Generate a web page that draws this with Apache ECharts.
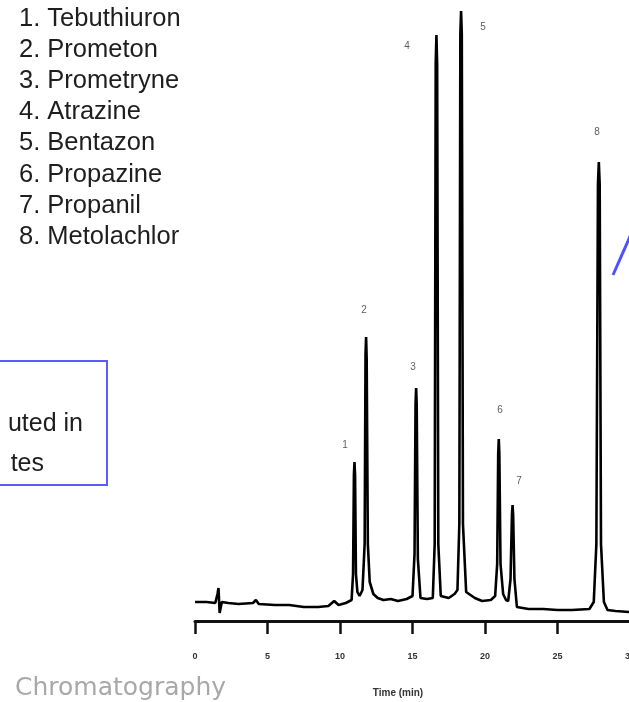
<!DOCTYPE html>
<html>
<head>
<meta charset="utf-8">
<script src="https://cdn.jsdelivr.net/npm/echarts@6/dist/echarts.min.js"></script>
<style>
html,body{margin:0;padding:0;background:#fff;}
#chart{width:629px;height:702px;}
</style>
</head>
<body>
<div id="chart"></div>
<script>
// ---- data ----
var compounds = ["1. Tebuthiuron","2. Prometon","3. Prometryne","4. Atrazine","5. Bentazon","6. Propazine","7. Propanil","8. Metolachlor"];
var xTicks = [0, 5, 10, 15, 20, 25, 30];

var chromTime = [
  0, 0.8, 1.4, 1.55, 1.62, 1.7, 1.85, 2.3, 3.0, 4.0, 4.2, 4.4, 5.5, 6.5, 7.5, 8.5, 9.2, 9.6, 9.9, 10.4, 10.8,
  10.9, 10.96, 11.0, 11.04, 11.1, 11.2, 11.35,
  11.55, 11.7, 11.76, 11.8, 11.84, 11.92, 12.05, 12.3,
  12.6, 13.0, 13.5, 14.0, 14.6, 15.0,
  15.14, 15.21, 15.25, 15.29, 15.37, 15.55,
  16.0, 16.4, 16.53, 16.6, 16.65, 16.7, 16.78, 16.95,
  17.5, 17.9, 18.1, 18.23, 18.3, 18.35, 18.4, 18.48, 18.7,
  19.3, 19.8, 20.4, 20.7, 20.84, 20.91, 20.95, 20.99, 21.07, 21.25,
  21.45, 21.6, 21.76, 21.86, 21.9, 21.94, 22.03, 22.2,
  23.0, 24.0, 25.0, 26.0, 27.2, 27.5, 27.68, 27.79, 27.85, 27.91, 28.0, 28.2, 28.45,
  29.0, 30.0
];
var chromSignal = [
  2, 2, 1, 10, 16, -9, 2, 1, 0, 1, 4, 0, -1, -1, -3, -3, -2, 3, -1, 1, 4,
  30, 130, 142, 128, 30, 12, 8,
  14, 60, 250, 267, 245, 60, 22, 10,
  6, 4, 5, 3, 5, 8,
  50, 200, 216, 200, 45, 6,
  5, 6, 60, 540, 569, 540, 60, 8,
  6, 10, 14, 80, 570, 593, 570, 80, 12,
  6, 3, 4, 8, 40, 150, 165, 150, 40, 10,
  4, 3, 25, 90, 99, 90, 25, -3,
  -5, -5, -6, -6, -5, 2, 60, 420, 442, 420, 60, 2, -6,
  -7, -8
];

var peakNames = ["1","2","3","4","5","6","7","8"];
var peakLabelTime = [10.34, 11.66, 15.03, 14.62, 19.86, 21.03, 22.34, 27.72];
var peakLabelHeight = [159, 294, 237, 558, 577, 194, 123, 472];

// ---- build ----
var chromData = chromTime.map(function(t, i){ return [t, chromSignal[i]]; });
var labelData = peakNames.map(function(n, i){ return {name:n, value:[peakLabelTime[i], peakLabelHeight[i]]}; });

var graphics = [];
compounds.forEach(function(c, i){
  graphics.push({type:'text', x:19, y:19 + i*31.1,
    style:{text:c, font:'25.5px "Liberation Sans", Arial, sans-serif', fill:'#1e1e1e', textVerticalAlign:'middle'}});
});
graphics.push({type:'rect', shape:{x:-10, y:361, width:117, height:124},
  style:{fill:'none', stroke:'#5b5bf5', lineWidth:2}});
graphics.push({type:'text', x:83, y:424, style:{text:'uted in', font:'25px "Liberation Sans", Arial, sans-serif', fill:'#1e1e1e', textAlign:'right', textVerticalAlign:'middle'}});
graphics.push({type:'text', x:44, y:464, style:{text:'tes', font:'25px "Liberation Sans", Arial, sans-serif', fill:'#1e1e1e', textAlign:'right', textVerticalAlign:'middle'}});
graphics.push({type:'line', shape:{x1:613, y1:275, x2:632, y2:232}, style:{stroke:'#5050ff', lineWidth:3}});
graphics.push({type:'text', x:15, y:688, style:{text:'Chromatography', font:'25px "DejaVu Sans", sans-serif', fill:'#a8a8a8', textVerticalAlign:'middle'}});
graphics.push({type:'text', x:398, y:693, style:{text:'Time (min)', font:'bold 10px "Liberation Sans", Arial, sans-serif', fill:'#333', textAlign:'center', textVerticalAlign:'middle'}});

var chart = echarts.init(document.getElementById('chart'), null, {renderer:'canvas'});
chart.setOption({
  animation:false,
  backgroundColor:'#fff',
  grid:{left:195, top:0, width:435, height:621, containLabel:false, outerBoundsMode:'none'},
  xAxis:{type:'value', min:0, max:30, interval:5,
    axisLine:{show:true, onZero:false, lineStyle:{color:'#111', width:3}},
    axisTick:{show:true, length:13, lineStyle:{color:'#111', width:2.5}},
    splitLine:{show:false},
    axisLabel:{margin:31, fontSize:9, fontWeight:'bold', color:'#333', fontFamily:'"Liberation Sans", Arial, sans-serif',
      showMaxLabel:true, showMinLabel:true}
  },
  yAxis:{type:'value', min:-17, max:604, show:false, splitLine:{show:false}},
  series:[
    {type:'line', data:chromData, showSymbol:false, symbol:'none',
      lineStyle:{color:'#000', width:2.6}, z:3},
    {type:'scatter', data:labelData, symbolSize:0,
      label:{show:true, position:'inside', formatter:'{b}', fontSize:10, color:'#333', fontFamily:'"Liberation Sans", Arial, sans-serif'}, z:4}
  ],
  graphic:graphics
});
</script>
</body>
</html>
